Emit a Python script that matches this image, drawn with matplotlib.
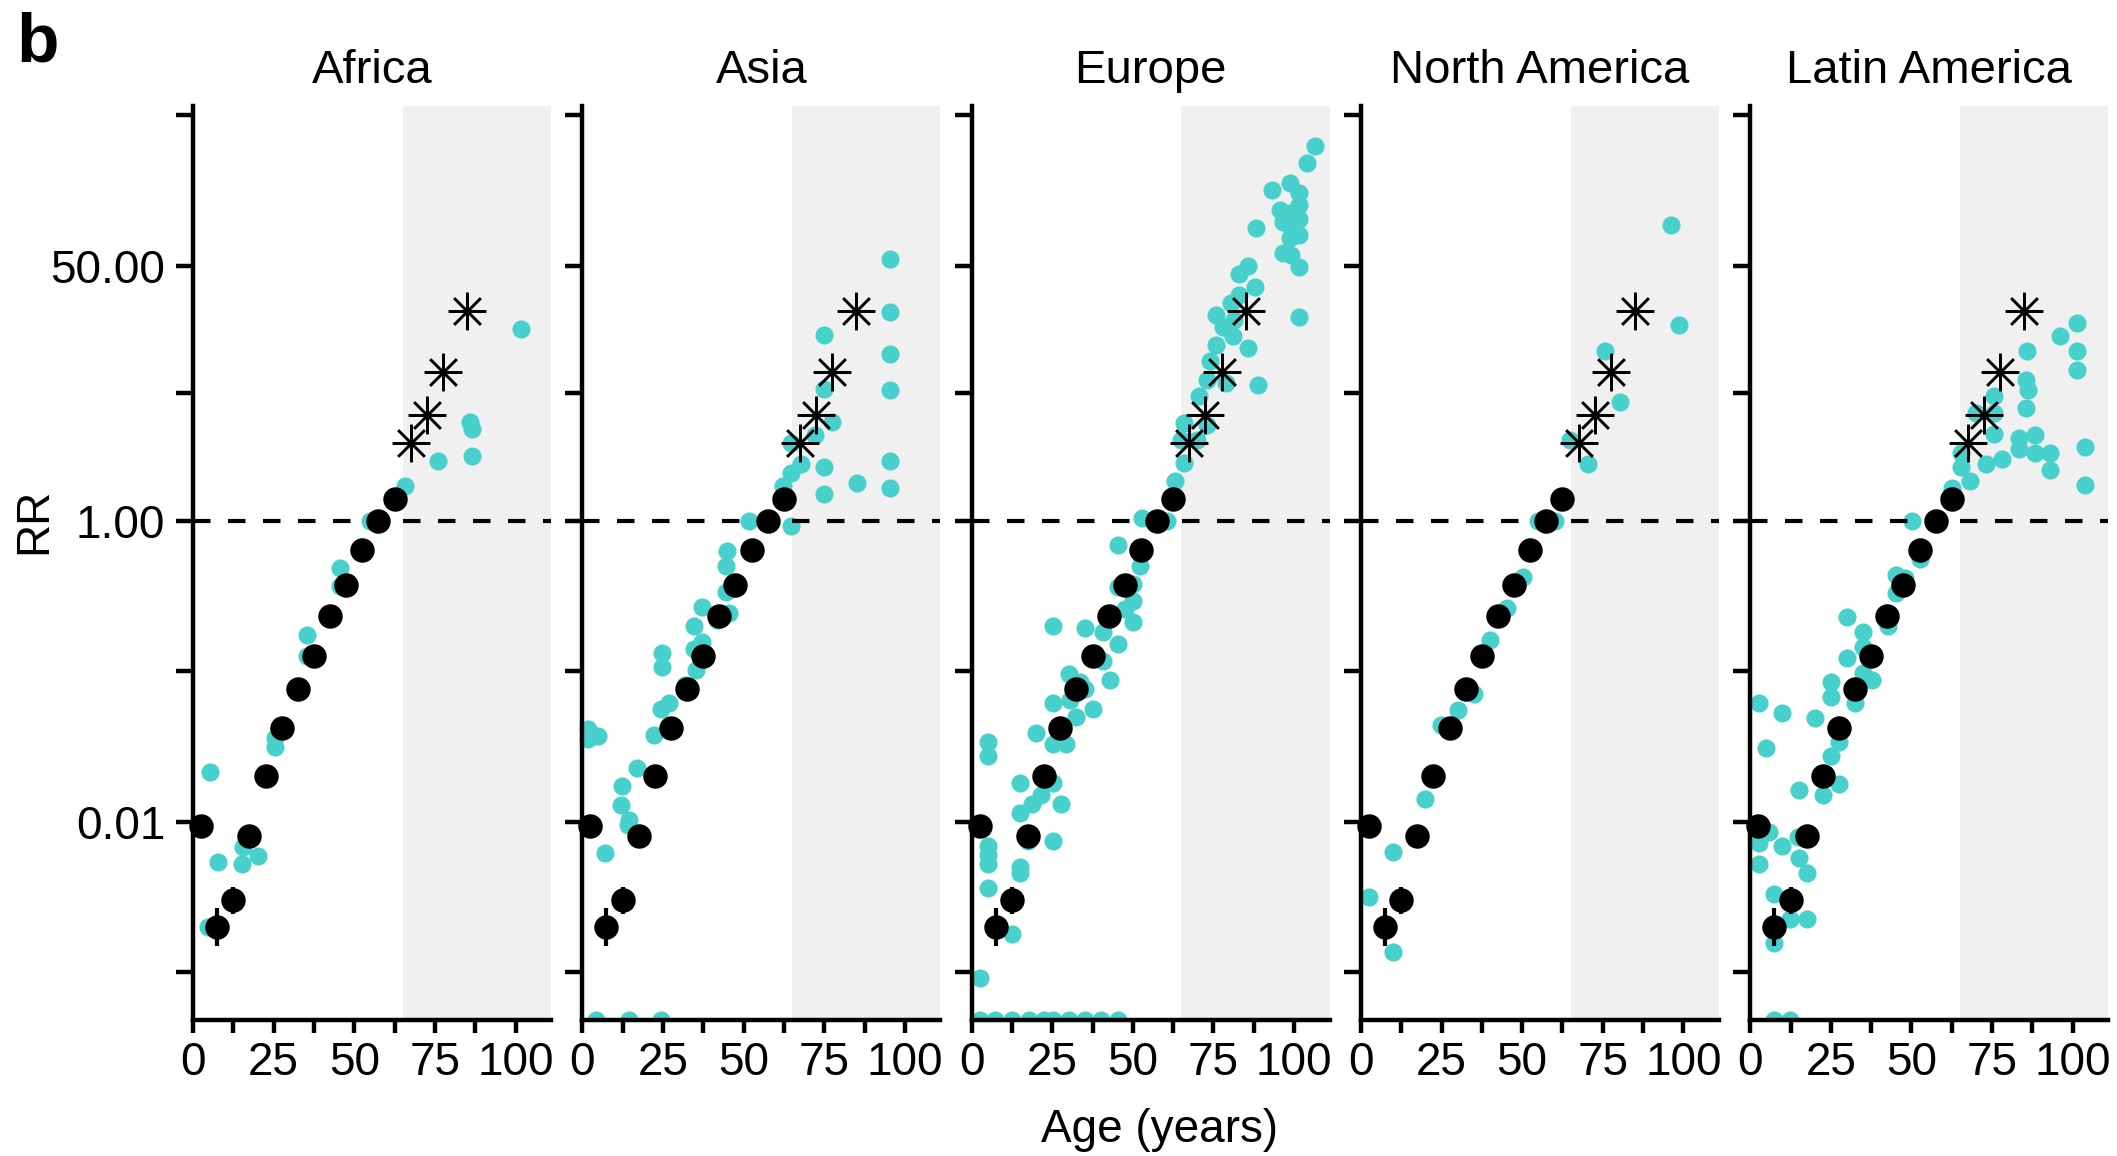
import numpy as np
import matplotlib.pyplot as plt
from matplotlib.ticker import NullLocator

plt.rcParams['font.family'] = ['Liberation Sans', 'DejaVu Sans']

regions = ['Africa', 'Asia', 'Europe', 'North America', 'Latin America']

# reference curve (black dots), same in every panel
ref_age = [2.5, 7.5, 12.5, 17.5, 22.5, 27.5, 32.5, 37.5, 42.5, 47.5, 52.5, 57.5, 62.5]
ref_rr = [0.0093, 0.0020, 0.0030, 0.0081, 0.020, 0.042, 0.076, 0.126,
          0.234, 0.376, 0.646, 1.0, 1.41]
ref_lo = [0.0091, 0.0015, 0.00244, 0.0078, 0.0195, 0.041, 0.074, 0.123,
          0.229, 0.368, 0.632, 0.98, 1.38]
ref_hi = [0.0095, 0.00266, 0.00369, 0.0084, 0.0205, 0.043, 0.078, 0.129,
          0.239, 0.384, 0.660, 1.02, 1.44]

# extrapolated ages (asterisks)
star_age = [67.5, 72.5, 77.5, 85]
star_rr = [3.3, 5.1, 9.8, 25.1]

africa_age = [5.3, 4.8, 7.7, 15.2, 15.4, 20.2, 25.4, 25.5, 35.4, 35.4, 45.5,
              45.5, 55, 65.7, 75.9, 86, 86.5, 86.4, 101.7]
africa_rr = [0.0214, 0.0020, 0.00537, 0.00525, 0.00676, 0.00589, 0.0363,
             0.0316, 0.174, 0.126, 0.490, 0.372, 1.0, 1.70, 2.51, 4.57, 4.07,
             2.69, 19.1]
africa_zero_age = []

asia_age = [1.8, 1.8, 4.9, 7.0, 12.2, 12.0, 14.6, 14.3, 17.1, 22.1, 24.4,
            24.7, 24.7, 26.8, 31.9, 34.6, 34.6, 35.1, 37.2, 37.2, 41.9, 45,
            44.7, 44.5, 45.5, 51.8, 64.8, 62.2, 64.8, 67.9, 64.8, 72, 77.4,
            74.8, 74.8, 74.8, 74.8, 85.3, 95.3, 95.3, 95.3, 95.3, 95.3, 95.3]
asia_rr = [0.0412, 0.0355, 0.0372, 0.00617, 0.0174, 0.0129, 0.0102, 0.00955,
           0.0229, 0.0380, 0.0562, 0.132, 0.107, 0.0617, 0.0813, 0.200, 0.141,
           0.102, 0.269, 0.158, 0.219, 0.631, 0.501, 0.339, 0.245, 1.0, 0.933,
           1.70, 2.09, 2.40, 3.31, 3.72, 4.57, 7.59, 17.4, 2.29, 1.51, 1.78,
           55.0, 24.5, 12.9, 7.41, 2.51, 1.66]
asia_zero_age = [4.4, 14.6, 24.4]

europe_age = [106.6, 104, 93.2, 98.8, 101.6, 101.6, 95.6, 98.8, 101.6, 96.4,
              98.8, 101.6, 98.8, 96.4, 99.1, 101.4, 101.4, 88.3, 85.6, 83,
              87.8, 80.4, 75.7, 81.5, 81, 85.6, 75.7, 88.8, 74, 79, 73.1, 70.5,
              73.1, 65.8, 65, 70, 65.8, 63.1, 60.6, 52.7,
              45.4, 52.2, 50.1, 45.4, 50.1, 50.1, 45.4, 40.7, 35.2, 25.2, 40.7,
              42.8, 30.2, 35.2, 37.6, 25.2, 32.3, 29.2, 25.2, 20, 5, 5, 15.1,
              25.2, 21.6, 27.6, 18.7, 15.1, 17.6, 25.2, 5, 5, 5, 15.1, 15.1, 5,
              12.4, 2.5, 83, 78, 30.5, 33.5, 47.5]
europe_rr = [312.6, 239.9, 158.5, 177.8, 151.4, 125.9, 117.5, 112.2, 102.3,
             97.7, 91.2, 79.4, 75.9, 61.0, 58.9, 49.0, 22.9, 89.1, 50.1, 43.7,
             36.3, 28.2, 23.4, 21.9, 17.0, 14.1, 14.8, 8.04, 11.7, 8.32, 8.71,
             6.76, 4.37, 4.47, 3.47, 3.47, 2.45, 1.86, 1.0, 1.05,
             0.692, 0.501, 0.380, 0.363, 0.292, 0.214, 0.153, 0.182, 0.195,
             0.200, 0.117, 0.0871, 0.0955, 0.0759, 0.0562, 0.0617, 0.0501,
             0.0331, 0.0331, 0.0389, 0.0339, 0.0275, 0.0182, 0.0182, 0.0151,
             0.0132, 0.0132, 0.0115, 0.00741, 0.00741, 0.00692, 0.00603,
             0.00525, 0.00501, 0.00457, 0.00363, 0.00178, 0.000912,
             32.0, 19.5, 0.0650, 0.0850, 0.260]
europe_zero_age = [2.5, 7.2, 12.4, 17.7, 22.4, 25.2, 30.1, 35.2, 40, 45.4]

namerica_age = [96.3, 98.7, 75.6, 80.4, 64.9, 70.5, 60.2, 55, 50.3, 45.4, 40.1,
                35.1, 30.1, 24.9, 20, 9.8, 2.4, 9.8]
namerica_rr = [93.3, 20.2, 13.5, 6.17, 3.47, 2.40, 1.0, 1.0, 0.427, 0.263,
               0.162, 0.0708, 0.0550, 0.0437, 0.0141, 0.00631, 0.00316,
               0.00135]
namerica_zero_age = []

latam_age = [101.2, 96.2, 101.2, 101.2, 85.8, 85.5, 86, 85.5, 75.5, 75.5, 70.1,
             75.5, 83.2, 88.2, 83.2, 88.2, 93.1, 93.1, 103.8, 103.8, 78, 73,
             65.4, 65.4, 68, 62.7, 50.2, 52.8, 45.2, 48.1, 45.2, 30.1, 35,
             42.7, 30.1, 35, 35, 37.9, 32.5, 25.2, 25.2, 20.1, 27.4, 25.2,
             27.4, 22.5, 15, 2.6, 9.9, 4.8, 5.8, 2.6, 2.6, 9.9, 14.7, 15,
             17.5, 7.4, 12.4, 17.5, 7.4]
latam_rr = [20.9, 17.0, 13.5, 10.1, 13.5, 8.71, 7.50, 5.62, 6.76, 5.25, 5.25,
            3.80, 3.55, 3.72, 3.02, 2.82, 2.82, 2.19, 3.09, 1.74, 2.57, 2.40,
            2.82, 2.29, 1.86, 1.66, 1.0, 0.562, 0.437, 0.417, 0.331, 0.229,
            0.182, 0.200, 0.123, 0.145, 0.0977, 0.0871, 0.0617, 0.0851,
            0.0676, 0.0490, 0.0339, 0.0275, 0.0178, 0.0151, 0.0162, 0.0617,
            0.0525, 0.0309, 0.00851, 0.00724, 0.00525, 0.00692, 0.00794,
            0.00575, 0.00457, 0.00331, 0.00224, 0.00224, 0.00155]
latam_zero_age = [7.4, 12.4]

region_age = [africa_age, asia_age, europe_age, namerica_age, latam_age]
region_rr = [africa_rr, asia_rr, europe_rr, namerica_rr, latam_rr]
region_zero = [africa_zero_age, asia_zero_age, europe_zero_age,
               namerica_zero_age, latam_zero_age]

ytick_vals = [0.001, 0.01, 0.1, 1, 7.07, 50, 500]
ytick_text = ['', '0.01', '', '1.00', '', '50.00', '']

W, H = 2117, 1156
ymin, ymax = 4.8e-4, 577
xmax = 111
cyan = 'mediumturquoise'

fig = plt.figure(figsize=(W / 100, H / 100), dpi=100)

for i, name in enumerate(regions):
    left = (193 + i * 389.3) / W
    ax = fig.add_axes([left, 1 - 1020 / H, 358 / W, 914 / H])
    ax.set_yscale('log')
    ax.set_xlim(0, xmax)
    ax.set_ylim(ymin, ymax)

    ax.axvspan(65, xmax, color='#f0f0f0', lw=0, zorder=0)
    ax.axhline(1, color='black', lw=3, ls=(0, (4.2, 4.2)), zorder=2)

    ax.scatter(region_age[i], region_rr[i], s=170, color=cyan, lw=0,
               zorder=1.5, clip_on=False)
    # zero rates sit on the floor of the axis
    zeros = region_zero[i]
    ax.scatter(zeros, [ymin] * len(zeros), s=170, color=cyan, lw=0,
               zorder=1.5, clip_on=True)

    ax.vlines(ref_age, ref_lo, ref_hi, color='black', lw=3, zorder=3)
    ax.scatter(ref_age, ref_rr, s=310, color='black', lw=0, zorder=4,
               clip_on=False)
    ax.plot(star_age, star_rr, ls='', marker=(8, 2, 0), ms=27, mew=1.8,
            color='black', zorder=4)

    for side in ['top', 'right']:
        ax.spines[side].set_visible(False)
    for side in ['left', 'bottom']:
        ax.spines[side].set_linewidth(3.2)

    ax.set_yticks(ytick_vals)
    ax.set_yticklabels(ytick_text if i == 0 else [''] * len(ytick_vals))
    ax.yaxis.set_minor_locator(NullLocator())
    ax.set_xticks([0, 25, 50, 75, 100])
    ax.set_xticklabels(['0', '25', '50', '75', '100'])
    ax.set_xticks([12.5, 37.5, 62.5, 87.5], minor=True)
    ax.tick_params(axis='y', which='both', length=12, width=3.2, labelsize=33,
                   pad=8)
    ax.tick_params(axis='x', which='both', length=9, width=3.2, labelsize=33,
                   pad=6)

    ax.text(0.5, 1.038, name, transform=ax.transAxes, ha='center',
            va='center', fontsize=34)

fig.text(34 / W, 1 - 521 / H, 'RR', rotation=90, ha='center', va='center',
         fontsize=33)
fig.text(1160 / W, 1 - 1130 / H, 'Age (years)', ha='center', va='center',
         fontsize=33)
fig.text(38 / W, 1 - 44 / H, 'b', ha='center', va='center', fontsize=50,
         fontweight='bold')

fig.savefig('out.png', dpi=100)
